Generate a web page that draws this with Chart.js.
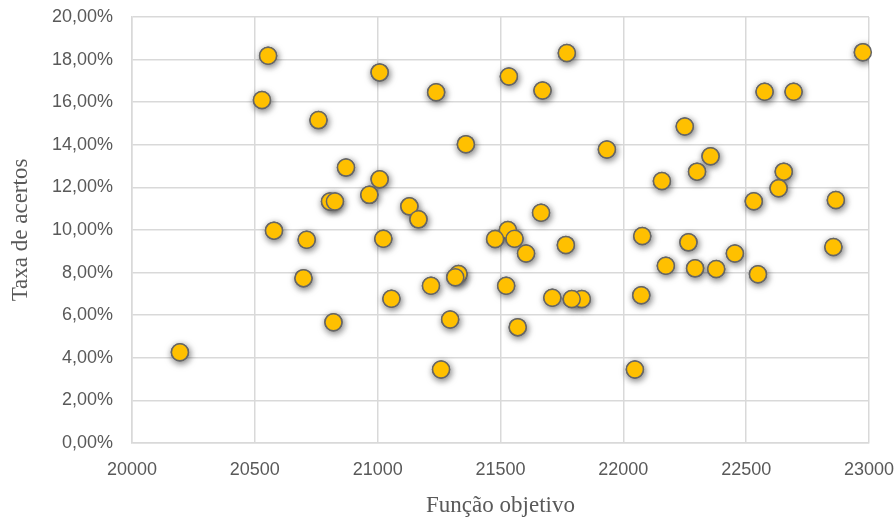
<!DOCTYPE html>
<html>
<head>
<meta charset="utf-8">
<script src="https://cdn.jsdelivr.net/npm/chart.js@4/dist/chart.umd.min.js"></script>
<style>
  html, body { margin: 0; padding: 0; background: #ffffff; }
  #wrap { width: 896px; height: 517px; position: relative; }
</style>
</head>
<body>
<div id="wrap"><canvas id="c" width="896" height="517"></canvas></div>
<script>
// Função objetivo (x) values
const funcaoObjetivo = [
  20195, 20529, 20554, 20578, 20711, 20698, 20759, 20820, 20806, 20826,
  20871, 20966, 21008, 21008, 21238, 21359, 21129, 21166, 21023, 21534,
  21671, 21770, 21665, 21530, 21478, 21557, 21604, 21766, 22975, 22575,
  22693, 22250, 21933, 22355, 22300, 22157, 22653, 22632, 22531, 22865,
  22077, 22265, 22855, 22454, 22173, 22292, 22378, 22548, 22073, 22047,
  21831, 21790, 21711, 21570, 21523, 21329, 21316, 21217, 21056, 21295,
  21258
];
// Taxa de acertos (%) values
const taxaAcertos = [
  4.26, 16.10, 18.18, 9.97, 9.54, 7.74, 15.16, 5.67, 11.34, 11.34,
  12.93, 11.65, 12.38, 17.40, 16.47, 14.03, 11.11, 10.50, 9.59, 17.21,
  16.55, 18.31, 10.81, 10.00, 9.58, 9.59, 8.90, 9.30, 18.35, 16.49,
  16.49, 14.86, 13.78, 13.46, 12.74, 12.30, 12.74, 11.96, 11.35, 11.41,
  9.72, 9.42, 9.20, 8.90, 8.32, 8.20, 8.17, 7.92, 6.94, 3.45,
  6.76, 6.76, 6.82, 5.44, 7.38, 7.93, 7.78, 7.38, 6.77, 5.80,
  3.45
];
const xTitle = 'Função objetivo';
const yTitle = 'Taxa de acertos';
const xMin = 20000, xMax = 23000, xStep = 500;
const yMin = 0, yMax = 20, yStep = 2;

const points = funcaoObjetivo.map((x, i) => ({ x: x, y: taxaAcertos[i] }));

// Soft drop shadow under each marker; markers are redrawn on top without shadow
const shadowPlugin = {
  id: 'markerShadow',
  beforeDatasetDraw(chart) {
    const ctx = chart.ctx;
    ctx.save();
    ctx.shadowColor = 'rgba(0,0,0,0.55)';
    ctx.shadowBlur = 7;
    ctx.shadowOffsetX = 1;
    ctx.shadowOffsetY = 2;
  },
  afterDatasetDraw(chart, args) {
    const ctx = chart.ctx;
    ctx.restore();
    args.meta.data.forEach(p => p.draw(ctx, chart.chartArea));
  }
};

const tickFont = { family: '"Liberation Sans", Arial, sans-serif', size: 18 };
const titleFont = { family: '"Liberation Serif", "Times New Roman", serif', size: 23, lineHeight: 1 };
const gray = '#595959';
const gridColor = '#d9d9d9';

new Chart(document.getElementById('c'), {
  type: 'scatter',
  data: {
    datasets: [{
      data: points,
      backgroundColor: '#FFC000',
      borderColor: '#666666',
      borderWidth: 1.5,
      pointRadius: 8.5,
      pointHoverRadius: 8.5
    }]
  },
  plugins: [shadowPlugin],
  options: {
    responsive: false,
    animation: false,
    events: [],
    layout: { padding: { top: 17, right: 27, bottom: 0, left: 0 } },
    plugins: { legend: { display: false }, tooltip: { enabled: false } },
    scales: {
      x: {
        type: 'linear',
        min: xMin, max: xMax,
        afterFit(scale) {
          scale.height = 74;
          scale.paddingLeft = 0; scale.paddingRight = 0;
        },
        ticks: {
          stepSize: xStep,
          color: gray,
          font: tickFont,
          padding: 16,
          maxRotation: 0,
          callback: v => String(v)
        },
        grid: { color: gridColor, lineWidth: 1.5, drawTicks: false },
        border: { color: gridColor, width: 1.5 },
        title: {
          display: true, text: xTitle, color: gray, font: titleFont,
          padding: { top: 0, bottom: 0 }
        }
      },
      y: {
        type: 'linear',
        min: yMin, max: yMax,
        afterFit(scale) {
          scale.width = 132;
          scale.paddingTop = 0; scale.paddingBottom = 0;
        },
        ticks: {
          stepSize: yStep,
          color: gray,
          font: tickFont,
          padding: 19,
          callback: v => v.toFixed(2).replace('.', ',') + '%'
        },
        grid: { color: gridColor, lineWidth: 1.5, drawTicks: false },
        border: { color: gridColor, width: 1.5 },
        title: {
          display: true, text: yTitle, color: gray, font: titleFont,
          padding: { top: 9, bottom: 0 }
        }
      }
    }
  }
});
</script>
</body>
</html>
